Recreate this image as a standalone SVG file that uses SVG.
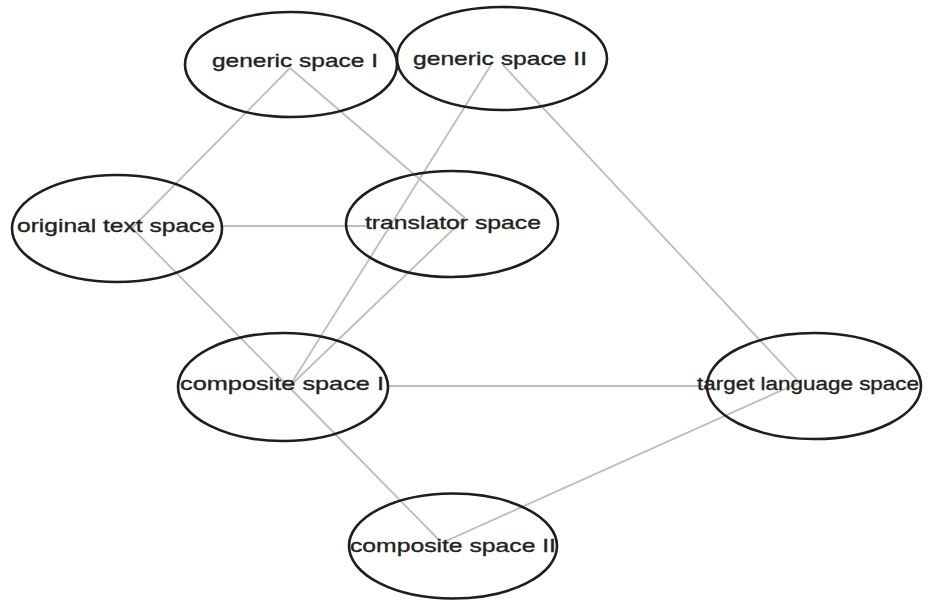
<svg xmlns="http://www.w3.org/2000/svg" width="935" height="601" viewBox="0 0 935 601">
<style>
.bg{fill:#ffffff}
.node ellipse{fill:none;stroke:#1e1e1e;stroke-width:2.6}
.node text{font-family:"Liberation Sans",Arial,sans-serif;font-size:19px;fill:#222;stroke:#222;stroke-width:0.35;text-anchor:middle}
.edge{stroke:#bdbdbd;stroke-width:1.8;fill:none}
</style>
<rect class="bg" x="0" y="0" width="935" height="601"/>
<g id="connectors">
<line class="edge" x1="290" y1="68" x2="132" y2="228"/>
<line class="edge" x1="290" y1="68" x2="465" y2="218"/>
<line class="edge" x1="491" y1="65" x2="289" y2="387"/>
<line class="edge" x1="503" y1="65" x2="798" y2="381"/>
<line class="edge" x1="223" y1="226" x2="366" y2="226"/>
<line class="edge" x1="132" y1="228" x2="289" y2="387"/>
<line class="edge" x1="465" y1="218" x2="289" y2="387"/>
<line class="edge" x1="289" y1="387" x2="440" y2="541"/>
<line class="edge" x1="388" y1="386" x2="703" y2="386"/>
<line class="edge" x1="446" y1="541" x2="798" y2="383"/>
</g>
<g id="generic-space-1" class="node">
<ellipse cx="291" cy="64.5" rx="106" ry="52.5"/>
<text x="295" y="67" textLength="166" lengthAdjust="spacingAndGlyphs">generic space I</text>
</g>
<g id="generic-space-2" class="node">
<ellipse cx="502" cy="58.5" rx="105" ry="51.5"/>
<text x="500" y="65" textLength="174" lengthAdjust="spacingAndGlyphs">generic space II</text>
</g>
<g id="original-text-space" class="node">
<ellipse cx="117" cy="228.5" rx="105" ry="53.5"/>
<text x="116" y="232" textLength="198" lengthAdjust="spacingAndGlyphs">original text space</text>
</g>
<g id="translator-space" class="node">
<ellipse cx="452" cy="224" rx="106" ry="53"/>
<text x="453" y="229" textLength="176" lengthAdjust="spacingAndGlyphs">translator space</text>
</g>
<g id="composite-space-1" class="node">
<ellipse cx="283" cy="387" rx="105" ry="54"/>
<text x="282" y="390" textLength="204" lengthAdjust="spacingAndGlyphs">composite space I</text>
</g>
<g id="target-language-space" class="node">
<ellipse cx="814" cy="386" rx="107" ry="53"/>
<text x="808" y="390" textLength="222" lengthAdjust="spacingAndGlyphs">target language space</text>
</g>
<g id="composite-space-2" class="node">
<ellipse cx="453" cy="546" rx="104" ry="52.5"/>
<text x="453" y="552" textLength="206" lengthAdjust="spacingAndGlyphs">composite space II</text>
</g>
</svg>
